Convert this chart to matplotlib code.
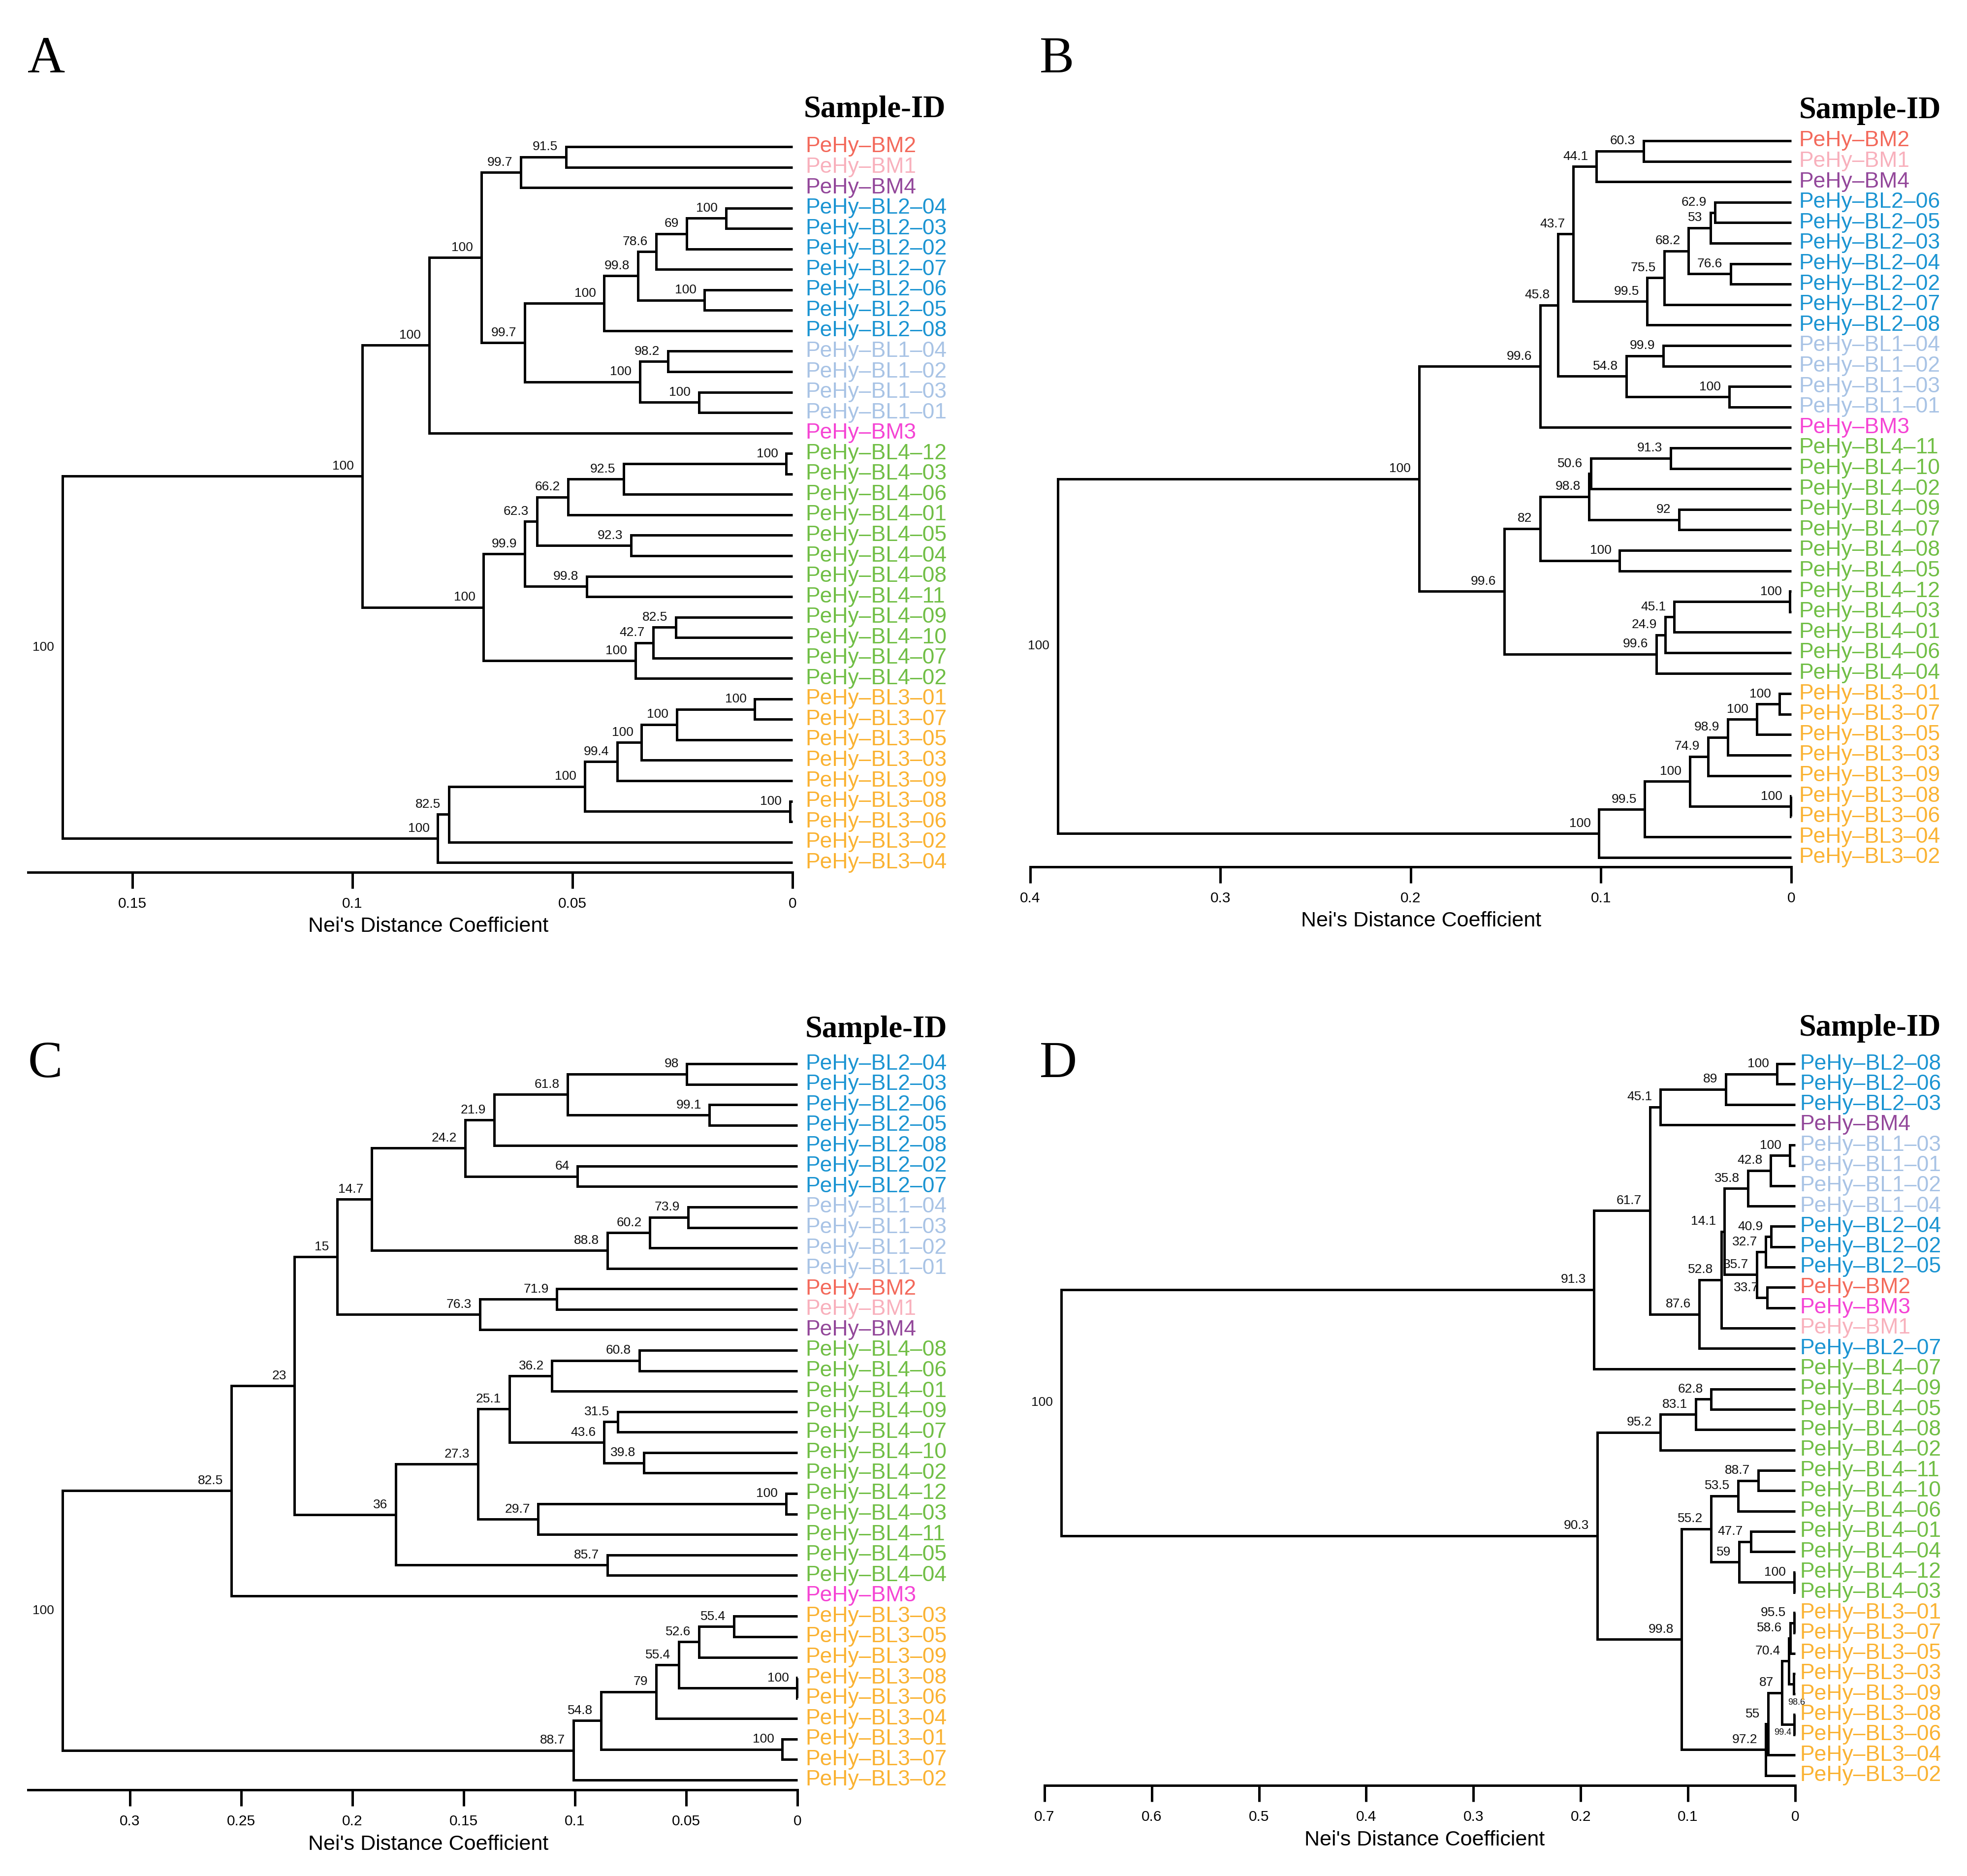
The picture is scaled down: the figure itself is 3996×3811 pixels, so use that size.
import matplotlib
matplotlib.use("Agg")
import matplotlib.pyplot as plt

plt.rcParams['font.family'] = ['Liberation Sans', 'DejaVu Sans']

W, H = 3996, 3811
DPI = 100
LW = 3.6

group_colors = {"BM1": "#F8B0BC", "BM2": "#F3695B", "BM3": "#F544D4", "BM4": "#93479A",
                "BL1": "#A8C3E5", "BL2": "#1B94D2", "BL3": "#FAB232", "BL4": "#70BE45"}

# ---------------- Panel A ----------------
leaves_A = ["BM2", "BM1", "BM4", "BL2-04", "BL2-03", "BL2-02", "BL2-07", "BL2-06", "BL2-05", "BL2-08",
            "BL1-04", "BL1-02", "BL1-03", "BL1-01", "BM3", "BL4-12", "BL4-03", "BL4-06", "BL4-01",
            "BL4-05", "BL4-04", "BL4-08", "BL4-11", "BL4-09", "BL4-10", "BL4-07", "BL4-02",
            "BL3-01", "BL3-07", "BL3-05", "BL3-03", "BL3-09", "BL3-08", "BL3-06", "BL3-02", "BL3-04"]
# (child a, child b, height, bootstrap support); ints refer to earlier merges
merges_A = [("BM2", "BM1", 0.0515, 91.5), (0, "BM4", 0.0617, 99.7),
            ("BL2-04", "BL2-03", 0.0151, 100), (2, "BL2-02", 0.0240, 69), (3, "BL2-07", 0.0310, 78.6),
            ("BL2-06", "BL2-05", 0.0200, 100), (4, 5, 0.0351, 99.8), (6, "BL2-08", 0.0428, 100),
            ("BL1-04", "BL1-02", 0.0283, 98.2), ("BL1-03", "BL1-01", 0.0213, 100), (8, 9, 0.0347, 100),
            (7, 10, 0.0609, 99.7), (1, 11, 0.0707, 100), (12, "BM3", 0.0826, 100),
            ("BL4-12", "BL4-03", 0.0014, 100), (14, "BL4-06", 0.0384, 92.5), (15, "BL4-01", 0.0510, 66.2),
            ("BL4-05", "BL4-04", 0.0367, 92.3), (16, 17, 0.0581, 62.3), ("BL4-08", "BL4-11", 0.0468, 99.8),
            (18, 19, 0.0608, 99.9), ("BL4-09", "BL4-10", 0.0265, 82.5), (21, "BL4-07", 0.0317, 42.7),
            (22, "BL4-02", 0.0357, 100), (20, 23, 0.0702, 100), (13, 24, 0.0978, 100),
            ("BL3-01", "BL3-07", 0.0086, 100), (26, "BL3-05", 0.0263, 100), (27, "BL3-03", 0.0343, 100),
            (28, "BL3-09", 0.0398, 99.4), ("BL3-08", "BL3-06", 0.0006, 100), (29, 30, 0.0472, 100),
            (31, "BL3-02", 0.0781, 82.5), (32, "BL3-04", 0.0806, 100), (25, 33, 0.1659, 100)]
ticks_A = [0.15, 0.1, 0.05, 0]
ticklabels_A = ["0.15", "0.1", "0.05", "0"]

# ---------------- Panel B ----------------
leaves_B = ["BM2", "BM1", "BM4", "BL2-06", "BL2-05", "BL2-03", "BL2-04", "BL2-02", "BL2-07", "BL2-08",
            "BL1-04", "BL1-02", "BL1-03", "BL1-01", "BM3", "BL4-11", "BL4-10", "BL4-02", "BL4-09",
            "BL4-07", "BL4-08", "BL4-05", "BL4-12", "BL4-03", "BL4-01", "BL4-06", "BL4-04",
            "BL3-01", "BL3-07", "BL3-05", "BL3-03", "BL3-09", "BL3-08", "BL3-06", "BL3-04", "BL3-02"]
merges_B = [("BM2", "BM1", 0.0777, 60.3), (0, "BM4", 0.1024, 44.1),
            ("BL2-06", "BL2-05", 0.0402, 62.9), (2, "BL2-03", 0.0425, 53), ("BL2-04", "BL2-02", 0.0319, 76.6),
            (3, 4, 0.0540, 68.2), (5, "BL2-07", 0.0668, 75.5), (6, "BL2-08", 0.0757, 99.5),
            (1, 7, 0.1146, 43.7), ("BL1-04", "BL1-02", 0.0672, 99.9), ("BL1-03", "BL1-01", 0.0326, 100),
            (9, 10, 0.0866, 54.8), (8, 11, 0.1225, 45.8), (12, "BM3", 0.1320, 99.6),
            ("BL4-11", "BL4-10", 0.0635, 91.3), (14, "BL4-02", 0.1054, 50.6), ("BL4-09", "BL4-07", 0.0589, 92),
            (15, 16, 0.1063, 98.8), ("BL4-08", "BL4-05", 0.0902, 100), (17, 18, 0.1320, 82),
            ("BL4-12", "BL4-03", 0.0007, 100), (20, "BL4-01", 0.0616, 45.1), (21, "BL4-06", 0.0662, 24.9),
            (22, "BL4-04", 0.0708, 99.6), (19, 23, 0.1508, 99.6), (13, 24, 0.1956, 100),
            ("BL3-01", "BL3-07", 0.0063, 100), (26, "BL3-05", 0.0181, 100), (27, "BL3-03", 0.0333, 98.9),
            (28, "BL3-09", 0.0438, 74.9), ("BL3-08", "BL3-06", 0.0003, 100), (29, 30, 0.0533, 100),
            (31, "BL3-04", 0.0770, 99.5), (32, "BL3-02", 0.1011, 100), (25, 33, 0.3855, 100)]
ticks_B = [0.4, 0.3, 0.2, 0.1, 0]
ticklabels_B = ["0.4", "0.3", "0.2", "0.1", "0"]

# ---------------- Panel C ----------------
leaves_C = ["BL2-04", "BL2-03", "BL2-06", "BL2-05", "BL2-08", "BL2-02", "BL2-07", "BL1-04", "BL1-03",
            "BL1-02", "BL1-01", "BM2", "BM1", "BM4", "BL4-08", "BL4-06", "BL4-01", "BL4-09", "BL4-07",
            "BL4-10", "BL4-02", "BL4-12", "BL4-03", "BL4-11", "BL4-05", "BL4-04", "BM3",
            "BL3-03", "BL3-05", "BL3-09", "BL3-08", "BL3-06", "BL3-04", "BL3-01", "BL3-07", "BL3-02"]
merges_C = [("BL2-04", "BL2-03", 0.0497, 98), ("BL2-06", "BL2-05", 0.0395, 99.1), (0, 1, 0.1033, 61.8),
            (2, "BL2-08", 0.1363, 21.9), ("BL2-02", "BL2-07", 0.0988, 64), (3, 4, 0.1493, 24.2),
            ("BL1-04", "BL1-03", 0.0491, 73.9), (6, "BL1-02", 0.0663, 60.2), (7, "BL1-01", 0.0855, 88.8),
            (5, 8, 0.1913, 14.7), ("BM2", "BM1", 0.1081, 71.9), (10, "BM4", 0.1428, 76.3),
            (9, 11, 0.2068, 15), ("BL4-08", "BL4-06", 0.0711, 60.8), (13, "BL4-01", 0.1103, 36.2),
            ("BL4-09", "BL4-07", 0.0807, 31.5), ("BL4-10", "BL4-02", 0.0691, 39.8), (15, 16, 0.0869, 43.6),
            (14, 17, 0.1295, 25.1), ("BL4-12", "BL4-03", 0.0051, 100), (19, "BL4-11", 0.1165, 29.7),
            (18, 20, 0.1436, 27.3), ("BL4-05", "BL4-04", 0.0855, 85.7), (21, 22, 0.1806, 36),
            (12, 23, 0.2260, 23), (24, "BM3", 0.2545, 82.5),
            ("BL3-03", "BL3-05", 0.0285, 55.4), (26, "BL3-09", 0.0443, 52.6), ("BL3-08", "BL3-06", 0.0002, 100),
            (27, 28, 0.0533, 55.4), (29, "BL3-04", 0.0635, 79), ("BL3-01", "BL3-07", 0.0068, 100),
            (30, 31, 0.0883, 54.8), (32, "BL3-02", 0.1007, 88.7), (25, 33, 0.3304, 100)]
ticks_C = [0.3, 0.25, 0.2, 0.15, 0.1, 0.05, 0]
ticklabels_C = ["0.3", "0.25", "0.2", "0.15", "0.1", "0.05", "0"]

# ---------------- Panel D ----------------
leaves_D = ["BL2-08", "BL2-06", "BL2-03", "BM4", "BL1-03", "BL1-01", "BL1-02", "BL1-04", "BL2-04",
            "BL2-02", "BL2-05", "BM2", "BM3", "BM1", "BL2-07", "BL4-07", "BL4-09", "BL4-05", "BL4-08",
            "BL4-02", "BL4-11", "BL4-10", "BL4-06", "BL4-01", "BL4-04", "BL4-12", "BL4-03",
            "BL3-01", "BL3-07", "BL3-05", "BL3-03", "BL3-09", "BL3-08", "BL3-06", "BL3-04", "BL3-02"]
merges_D = [("BL2-08", "BL2-06", 0.0169, 100), (0, "BL2-03", 0.0649, 89), (1, "BM4", 0.1257, 45.1),
            ("BL1-03", "BL1-01", 0.0051, 100), (3, "BL1-02", 0.0230, 42.8), (4, "BL1-04", 0.0441, 35.8),
            ("BL2-04", "BL2-02", 0.0225, 40.9), (6, "BL2-05", 0.0275, 32.7), ("BM2", "BM3", 0.0262, 33.7),
            (7, 8, 0.0358, 35.7), (5, 9, 0.0661, 14.1), (10, "BM1", 0.0689, 52.8),
            (11, "BL2-07", 0.0895, 87.6), (2, 12, 0.1356, 61.7), (13, "BL4-07", 0.1876, 91.3),
            ("BL4-09", "BL4-05", 0.0783, 62.8), (15, "BL4-08", 0.0929, 83.1), (16, "BL4-02", 0.1257, 95.2),
            ("BL4-11", "BL4-10", 0.0344, 88.7), (18, "BL4-06", 0.0533, 53.5), ("BL4-01", "BL4-04", 0.0413, 47.7),
            ("BL4-12", "BL4-03", 0.0009, 100), (20, 21, 0.0523, 59), (19, 22, 0.0785, 55.2),
            ("BL3-01", "BL3-07", 0.0009, 95.5), (24, "BL3-05", 0.0046, 58.6), ("BL3-03", "BL3-09", 0.0014, 98.6),
            (25, 26, 0.0060, 70.4), ("BL3-08", "BL3-06", 0.0009, 99.4), (27, 28, 0.0124, 87),
            (29, "BL3-04", 0.0253, 55), (30, "BL3-02", 0.0275, 97.2), (23, 31, 0.1058, 99.8),
            (17, 32, 0.1847, 90.3), (14, 33, 0.6844, 100)]
ticks_D = [0.7, 0.6, 0.5, 0.4, 0.3, 0.2, 0.1, 0]
ticklabels_D = ["0.7", "0.6", "0.5", "0.4", "0.3", "0.2", "0.1", "0"]

# label placement overrides (merge index -> (dx pt, dy pt, fontsize, ha, va))
overrides_D = {26: (4, -27, 13, "center", "center"), 28: (-16.5, -12, 13, "center", "center")}

fig = plt.figure(figsize=(W / DPI, H / DPI), dpi=DPI)


def ftext(x, y, s, **kw):
    fig.text(x / W, 1 - y / H, s, **kw)


def draw_panel(leaves, merges, ticks, ticklabels, lay, overrides=None):
    overrides = overrides or {}
    L, R, T, B = lay["rect"]
    x0, ppu, y0, dy = lay["x0"], lay["ppu"], lay["y0"], lay["dy"]
    ax = fig.add_axes([L / W, 1 - B / H, (R - L) / W, (B - T) / H])
    ax.set_xlim((x0 - L) / ppu, (x0 - R) / ppu)
    ax.set_ylim((B - y0) / dy, (T - y0) / dy)
    ax.patch.set_alpha(0)
    for s in ["top", "left", "right"]:
        ax.spines[s].set_visible(False)
    ax.spines["bottom"].set_position(("data", (lay["axis_y"] - y0) / dy))
    ax.spines["bottom"].set_bounds(0, lay["axis_left"])
    ax.spines["bottom"].set_linewidth(LW)
    ax.set_yticks([])
    ax.set_xticks(ticks, ticklabels)
    ax.tick_params(axis="x", direction="out", length=24, width=LW, pad=12, labelsize=21.5)

    ypos = {name: i for i, name in enumerate(leaves)}
    nx, ny = [], []

    def get(c):
        if isinstance(c, str):
            return 0.0, ypos[c]
        return nx[c], ny[c]

    for k, (a, b, h, s) in enumerate(merges):
        xa, ya = get(a)
        xb, yb = get(b)
        ax.plot([xa, h, h, xb], [ya, ya, yb, yb], color="black", lw=LW,
                solid_joinstyle="miter", solid_capstyle="butt", clip_on=False)
        ym = (ya + yb) / 2
        nx.append(h)
        ny.append(ym)
        dxp, dyp, fs, ha, va = overrides.get(k, (-12, 6, 19, "right", "bottom"))
        ax.annotate(f"{s:g}", (h, ym), xytext=(dxp, dyp), textcoords="offset points",
                    ha=ha, va=va, fontsize=fs, color="#111111", annotation_clip=False)

    for name, i in ypos.items():
        label = "PeHy\u2013" + name.replace("-", "\u2013")
        ax.annotate(label, (0, i), xytext=(lay["lab_off"], 0), textcoords="offset points",
                    ha="left", va="center", fontsize=32, color=group_colors[name[:3]],
                    annotation_clip=False)

    hx, hy = lay["header"]
    ftext(hx, hy, "Sample-ID", family=["Liberation Serif", "DejaVu Serif"], fontweight="bold",
          fontsize=45, ha="left", va="baseline")
    lx, lyb, letter = lay["letter"]
    ftext(lx, lyb, letter, family=["Liberation Serif", "DejaVu Serif"], fontsize=76,
          ha="left", va="baseline")
    xlx, xly = lay["xlabel"]
    ftext(xlx, xly, "Nei's Distance Coefficient", fontsize=31, ha="center", va="center")


lay_A = dict(rect=(0, 1998, 250, 1960), x0=1610, ppu=8940, y0=298, dy=41.55, axis_y=1772,
             axis_left=0.1737, lab_off=19, header=(1633, 238), letter=(56, 147, "A"), xlabel=(870, 1882))
lay_B = dict(rect=(1998, 3996, 250, 1960), x0=3639, ppu=3866, y0=286, dy=41.6, axis_y=1761,
             axis_left=0.4, lab_off=11, header=(3655, 240), letter=(2112, 147, "B"), xlabel=(2887, 1871))
lay_C = dict(rect=(0, 1998, 2110, 3811), x0=1620, ppu=4520, y0=2161, dy=41.57, axis_y=3636,
             axis_left=0.3458, lab_off=12, header=(1636, 2107), letter=(57, 2188, "C"), xlabel=(870, 3747))
lay_D = dict(rect=(1998, 3996, 2110, 3811), x0=3647, ppu=2179, y0=2161, dy=41.3, axis_y=3627,
             axis_left=0.7, lab_off=7, header=(3655, 2104), letter=(2112, 2188, "D"), xlabel=(2894, 3738))

draw_panel(leaves_A, merges_A, ticks_A, ticklabels_A, lay_A)
draw_panel(leaves_B, merges_B, ticks_B, ticklabels_B, lay_B)
draw_panel(leaves_C, merges_C, ticks_C, ticklabels_C, lay_C)
draw_panel(leaves_D, merges_D, ticks_D, ticklabels_D, lay_D, overrides_D)

fig.savefig("out.png", dpi=DPI, facecolor="white")
